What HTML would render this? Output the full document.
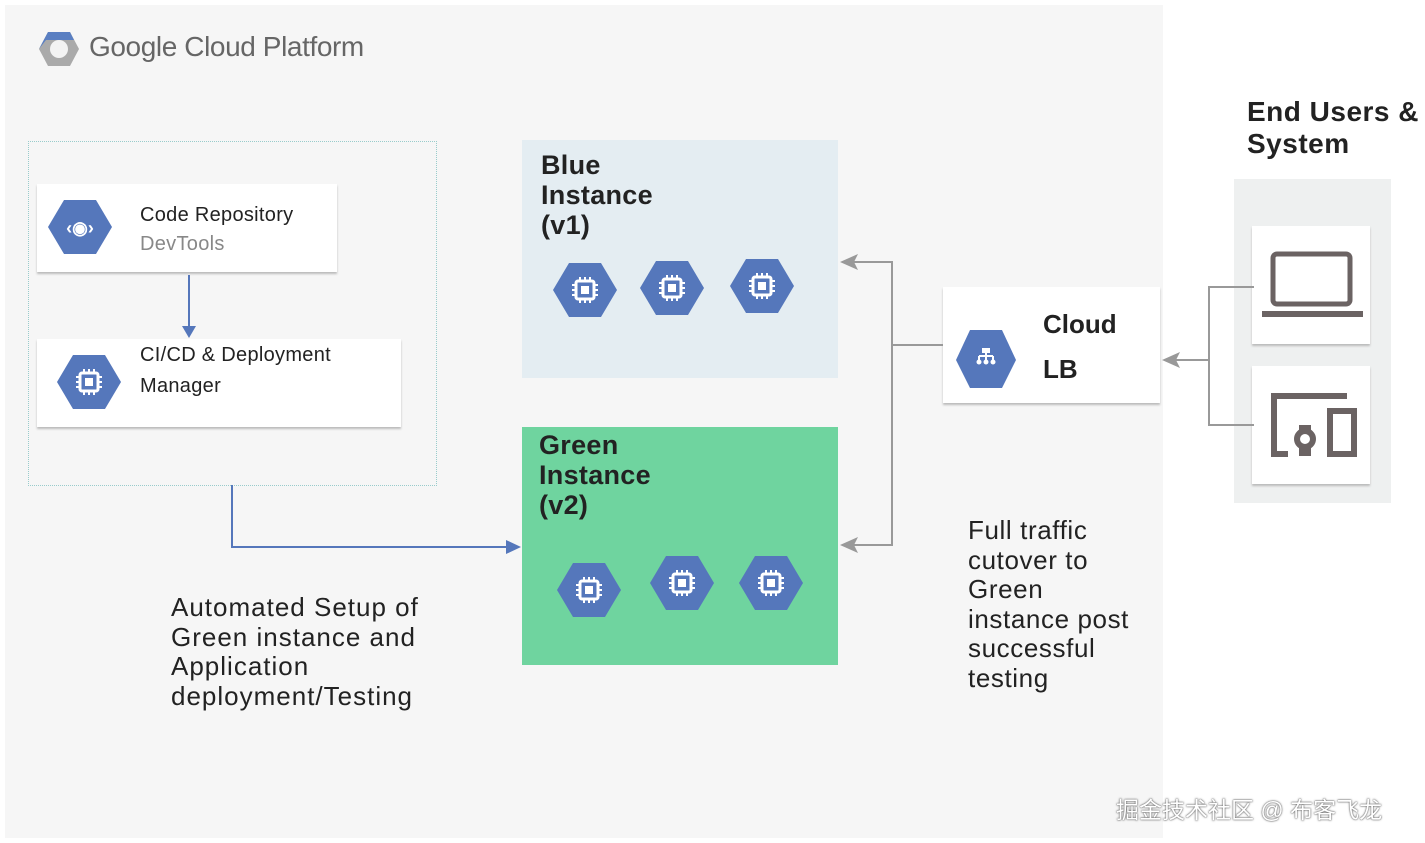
<!DOCTYPE html>
<html><head><meta charset="utf-8"><style>
body{margin:0;width:1425px;height:843px;background:#fff;position:relative;overflow:hidden;font-family:"Liberation Sans",sans-serif;}
.a{position:absolute}
.card{position:absolute;background:#fff;box-shadow:0 2px 2px #bbb;}
.t{position:absolute;color:#222;white-space:nowrap}
</style></head><body>
<div class="a" style="left:5px;top:5px;width:1158px;height:833px;background:#f6f6f6"></div>
<svg class="a" style="left:38px;top:30px" width="42" height="38" viewBox="0 0 42 38">
<polygon points="10,2 32,2 41,19 32,36 10,36 1,19" fill="#aaa"/>
<polygon points="10,2 32,2 36,10 8,10 1,19" fill="#5a7fc2"/>
<circle cx="21" cy="19" r="9" fill="#f3f3f3"/></svg>
<div class="t" style="left:89px;top:31px;font-size:28px;color:#666;letter-spacing:-0.4px">Google Cloud Platform</div>
<div class="a" style="left:28px;top:141px;width:407px;height:343px;border:1px dotted #9cc"></div>
<div class="card" style="left:37px;top:184px;width:300px;height:88px"></div>
<div class="card" style="left:37px;top:339px;width:364px;height:88px"></div>
<div class="a" style="left:522px;top:140px;width:316px;height:238px;background:#e4edf2"></div>
<div class="a" style="left:522px;top:427px;width:316px;height:238px;background:#6fd49f"></div>
<div class="card" style="left:943px;top:287px;width:217px;height:116px"></div>
<div class="a" style="left:1234px;top:179px;width:157px;height:324px;background:#eef0f0"></div>
<div class="card" style="left:1252px;top:226px;width:118px;height:118px"></div>
<div class="card" style="left:1252px;top:366px;width:118px;height:118px"></div>
<svg class="a" style="left:0;top:0" width="1425" height="843">
<defs>
<g id="hx"><polygon points="-16,-27 16,-27 32,0 16,27 -16,27 -32,0" fill="#5577bb"/></g>
<g id="chip"><use href="#hx"/><rect x="-9" y="-9" width="18" height="18" rx="2" fill="none" stroke="#fff" stroke-width="3"/><rect x="-4" y="-4" width="8" height="8" fill="#fff"/>
<path d="M-13 -5h4M-13 0h4M-13 5h4M9 -5h4M9 0h4M9 5h4M-5 -13v4M0 -13v4M5 -13v4M-5 9v4M0 9v4M5 9v4" stroke="#fff" stroke-width="2"/></g>
</defs>
<use href="#hx" x="80" y="227"/>
<text x="80" y="234" fill="#fff" font-size="18" font-weight="bold" text-anchor="middle" font-family="Liberation Sans">‹◉›</text>
<use href="#chip" x="89" y="382"/>
<use href="#chip" x="585" y="290"/><use href="#chip" x="672" y="288"/><use href="#chip" x="762" y="286"/>
<use href="#chip" x="589" y="590"/><use href="#chip" x="682" y="583"/><use href="#chip" x="771" y="583"/>
<polygon points="970,330 1002,330 1016,360 1002,388 970,388 956,360" fill="#5577bb"/>
<rect x="982" y="348" width="8" height="5" fill="#fff"/>
<path d="M979 356h14M986 353v3M979 356v5M986 356v5M993 356v5" stroke="#fff" stroke-width="2"/>
<circle cx="979" cy="362" r="2.5" fill="#fff"/><circle cx="986" cy="362" r="2.5" fill="#fff"/><circle cx="993" cy="362" r="2.5" fill="#fff"/>
<g stroke="#5577bb" stroke-width="2" fill="none">
<path d="M189 275V330"/><path d="M232 485V547H508"/></g>
<polygon points="182,326 196,326 189,338" fill="#5577bb"/>
<polygon points="506,540 521,547 506,554" fill="#5577bb"/>
<g stroke="#999" stroke-width="2" fill="none">
<path d="M943 345H892V262H850M892 345V545H850"/>
<path d="M1254 287H1209V425H1254M1209 360H1170"/></g>
<polygon points="840,262 858,254 854,262 858,270" fill="#999"/>
<polygon points="840,545 858,537 854,545 858,553" fill="#999"/>
<polygon points="1162,360 1180,352 1176,360 1180,368" fill="#999"/>
<g fill="none" stroke="#6b6363" stroke-width="5">
<rect x="1273" y="254" width="77" height="50" rx="4"/></g>
<rect x="1262" y="311" width="101" height="6" fill="#6b6363"/>
<g fill="none" stroke="#6b6363" stroke-width="6">
<path d="M1347 396H1274V454H1288"/><rect x="1330" y="411" width="24" height="43"/><circle cx="1305" cy="439" r="8"/></g>
<rect x="1299" y="425" width="12" height="6" fill="#6b6363"/><rect x="1299" y="447" width="12" height="9" fill="#6b6363"/>
</svg>
<div class="t" style="left:140px;top:204px;font-size:20px;letter-spacing:0.3px">Code Repository</div>
<div class="t" style="left:140px;top:233px;font-size:20px;color:#888;letter-spacing:0.3px">DevTools</div>
<div class="t" style="left:140px;top:344px;font-size:20px;letter-spacing:0.3px">CI/CD &amp; Deployment</div>
<div class="t" style="left:140px;top:375px;font-size:20px;letter-spacing:0.3px">Manager</div>
<div class="t" style="left:541px;top:150px;font-size:27px;font-weight:bold;line-height:30px;letter-spacing:0.3px">Blue<br>Instance<br>(v1)</div>
<div class="t" style="left:539px;top:430px;font-size:27px;font-weight:bold;line-height:30px;letter-spacing:0.3px">Green<br>Instance<br>(v2)</div>
<div class="t" style="left:1043px;top:309px;font-size:26px;font-weight:bold">Cloud</div>
<div class="t" style="left:1043px;top:354px;font-size:26px;font-weight:bold">LB</div>
<div class="t" style="left:1247px;top:96px;font-size:28px;font-weight:bold;line-height:32px;letter-spacing:0.5px">End Users &amp;<br>System</div>
<div class="t" style="left:171px;top:593px;font-size:26px;line-height:29.5px;letter-spacing:1px">Automated Setup of<br>Green instance and<br>Application<br>deployment/Testing</div>
<div class="t" style="left:968px;top:516px;font-size:26px;line-height:29.5px;letter-spacing:0.6px">Full traffic<br>cutover to<br>Green<br>instance post<br>successful<br>testing</div>
<div class="t" style="left:1116px;top:791px;font-size:23px;color:#fff;text-shadow:0 0 2px #555,0 0 1px #555;font-family:'Liberation Sans','Noto Sans CJK SC',sans-serif">掘金技术社区 @ 布客飞龙</div>
</body></html>
